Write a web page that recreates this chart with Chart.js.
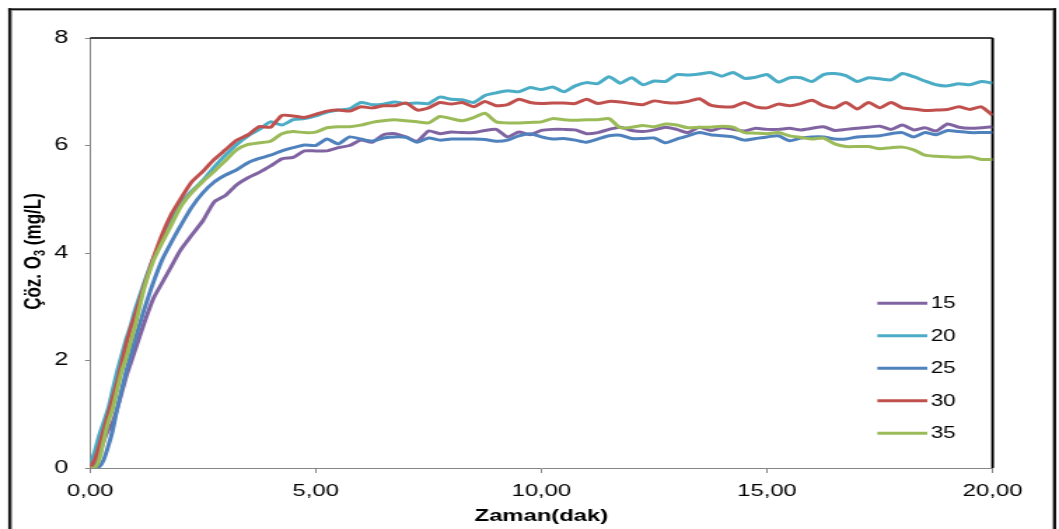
<!DOCTYPE html>
<html>
<head>
<meta charset="utf-8">
<script src="https://cdn.jsdelivr.net/npm/chart.js@4.4.1/dist/chart.umd.min.js"></script>
<style>
  html, body { margin: 0; padding: 0; background: #fff; overflow: hidden; }
  #wrap { width: 1059px; height: 529px; overflow: hidden; }
  /* the reference is stretched horizontally, so the chart is drawn narrow and scaled */
  #chart { display: block; transform: scaleX(1.40079); transform-origin: 0 0; }
</style>
</head>
<body>
<div id="wrap"><canvas id="chart" width="756" height="529"></canvas></div>
<script>
// ── Data ──────────────────────────────────────────────────────────────────────

const TIME = [
  0, 0.1, 0.2, 0.3, 0.4, 0.5, 0.6, 0.7, 0.8, 0.9, 1.0, 1.2, 1.4, 1.6, 1.8, 2.0,
  2.25, 2.5, 2.75, 3.0, 3.25, 3.5, 3.75, 4.0, 4.25, 4.5, 4.75, 5.0,
  5.25, 5.5, 5.75, 6.0, 6.25, 6.5, 6.75, 7.0, 7.25, 7.5, 7.75, 8.0,
  8.25, 8.5, 8.75, 9.0, 9.25, 9.5, 9.75, 10.0, 10.25, 10.5, 10.75, 11.0,
  11.25, 11.5, 11.75, 12.0, 12.25, 12.5, 12.75, 13.0, 13.25, 13.5, 13.75, 14.0,
  14.25, 14.5, 14.75, 15.0, 15.25, 15.5, 15.75, 16.0, 16.25, 16.5, 16.75, 17.0,
  17.25, 17.5, 17.75, 18.0, 18.25, 18.5, 18.75, 19.0, 19.25, 19.5, 19.75, 20.0,
];

const S15 = [
  0, 0.05, 0.25, 0.5, 0.7, 0.85, 1.1, 1.4, 1.7, 1.95, 2.2, 2.7, 3.15, 3.45, 3.75, 4.05,
  4.33, 4.6, 4.95, 5.07, 5.27, 5.4, 5.5, 5.62, 5.75, 5.78, 5.9, 5.9,
  5.9, 5.96, 6.0, 6.1, 6.06, 6.2, 6.22, 6.16, 6.08, 6.27, 6.22, 6.25,
  6.24, 6.24, 6.28, 6.3, 6.16, 6.25, 6.2, 6.28, 6.3, 6.3, 6.29, 6.22,
  6.24, 6.3, 6.34, 6.28, 6.26, 6.29, 6.34, 6.3, 6.24, 6.34, 6.28, 6.33,
  6.3, 6.27, 6.32, 6.3, 6.3, 6.32, 6.29, 6.32, 6.35, 6.28, 6.3, 6.32,
  6.34, 6.36, 6.3, 6.38, 6.29, 6.33, 6.27, 6.4, 6.34, 6.32, 6.33, 6.35,
];

const S20 = [
  0.05, 0.3, 0.6, 0.85, 1.1, 1.45, 1.8, 2.1, 2.4, 2.65, 2.95, 3.45, 3.9, 4.25, 4.6, 4.9,
  5.15, 5.35, 5.6, 5.82, 6.02, 6.18, 6.3, 6.44, 6.38, 6.48, 6.5, 6.55,
  6.62, 6.66, 6.68, 6.8, 6.76, 6.77, 6.81, 6.78, 6.79, 6.78, 6.9, 6.86,
  6.85, 6.8, 6.93, 6.98, 7.02, 7.0, 7.08, 7.04, 7.09, 7.0, 7.11, 7.17,
  7.15, 7.28, 7.16, 7.26, 7.13, 7.2, 7.19, 7.32, 7.31, 7.33, 7.36, 7.29,
  7.36, 7.25, 7.27, 7.32, 7.18, 7.26, 7.26, 7.19, 7.32, 7.34, 7.3, 7.19,
  7.26, 7.24, 7.22, 7.34, 7.28, 7.2, 7.13, 7.11, 7.15, 7.13, 7.19, 7.16,
];

const S25 = [
  0, 0, 0.02, 0.15, 0.4, 0.7, 1.1, 1.45, 1.8, 2.1, 2.4, 2.95, 3.45, 3.88, 4.2, 4.5,
  4.85, 5.12, 5.32, 5.45, 5.55, 5.68, 5.76, 5.82, 5.9, 5.96, 6.01, 6.0,
  6.12, 6.03, 6.16, 6.12, 6.08, 6.14, 6.16, 6.15, 6.06, 6.14, 6.1, 6.12,
  6.12, 6.12, 6.11, 6.08, 6.1, 6.18, 6.22, 6.16, 6.12, 6.13, 6.1, 6.06,
  6.12, 6.18, 6.19, 6.13, 6.13, 6.14, 6.05, 6.12, 6.18, 6.24, 6.2, 6.18,
  6.16, 6.1, 6.13, 6.16, 6.18, 6.09, 6.14, 6.16, 6.16, 6.12, 6.12, 6.16,
  6.17, 6.18, 6.22, 6.24, 6.16, 6.24, 6.2, 6.28, 6.26, 6.24, 6.24, 6.24,
];

const S30 = [
  0, 0.15, 0.4, 0.7, 1.0, 1.3, 1.6, 1.95, 2.3, 2.6, 2.85, 3.4, 3.9, 4.35, 4.72, 5.0,
  5.32, 5.52, 5.74, 5.92, 6.1, 6.2, 6.35, 6.34, 6.56, 6.55, 6.52, 6.58,
  6.64, 6.66, 6.64, 6.72, 6.7, 6.74, 6.74, 6.79, 6.66, 6.7, 6.8, 6.77,
  6.8, 6.72, 6.82, 6.74, 6.76, 6.86, 6.8, 6.78, 6.79, 6.79, 6.78, 6.86,
  6.78, 6.82, 6.81, 6.78, 6.76, 6.83, 6.8, 6.79, 6.82, 6.87, 6.75, 6.72,
  6.72, 6.8, 6.72, 6.7, 6.77, 6.74, 6.78, 6.84, 6.74, 6.7, 6.8, 6.68,
  6.8, 6.7, 6.8, 6.7, 6.68, 6.65, 6.66, 6.67, 6.72, 6.67, 6.72, 6.56,
];

const S35 = [
  0, 0, 0.15, 0.5, 0.85, 1.1, 1.45, 1.8, 2.05, 2.35, 2.65, 3.35, 3.85, 4.2, 4.52, 4.85,
  5.12, 5.33, 5.52, 5.72, 5.92, 6.02, 6.05, 6.08, 6.22, 6.26, 6.24, 6.25,
  6.33, 6.35, 6.35, 6.38, 6.43, 6.46, 6.48, 6.46, 6.44, 6.42, 6.54, 6.5,
  6.46, 6.52, 6.6, 6.44, 6.42, 6.42, 6.43, 6.44, 6.5, 6.48, 6.47, 6.48,
  6.48, 6.5, 6.33, 6.34, 6.37, 6.35, 6.4, 6.38, 6.33, 6.34, 6.34, 6.36,
  6.34, 6.24, 6.23, 6.22, 6.24, 6.18, 6.15, 6.12, 6.14, 6.03, 5.98, 5.98,
  5.98, 5.94, 5.96, 5.97, 5.92, 5.82, 5.8, 5.79, 5.78, 5.79, 5.74, 5.74,
];

const SERIES_LABELS = ["15", "20", "25", "30", "35"];
const SERIES_VALUES = [S15, S20, S25, S30, S35];
const SERIES_COLORS = ["#8064A2", "#4BACC6", "#4F81BD", "#C0504D", "#9BBB59"];

const X_TICK_LABELS = ["0,00", "5,00", "10,00", "15,00", "20,00"];
const X_TITLE = "Zaman(dak)";
const Y_TITLE_PARTS = ["Çöz. O", "3", " (mg/L)"];  // middle part is a subscript

// ── Style ─────────────────────────────────────────────────────────────────────

const FONT = '"Liberation Sans", Arial, sans-serif';
const AXIS_GRAY = "#868686";

Chart.defaults.font.family = FONT;
Chart.defaults.color = "#000";

// ── Decorations: outer frame, plot border, y title, legend ───────────────────

const decor = {
  id: "decor",
  beforeDraw(chart) {
    const { ctx, width, height } = chart;
    ctx.save();
    ctx.fillStyle = "#fff";
    ctx.fillRect(0, 0, width, height);
    // outer frame
    ctx.fillStyle = "#111";
    ctx.fillRect(5.9, 8.3, 748.1, 2);
    ctx.fillRect(5.9, 8.3, 2, height);
    ctx.fillRect(751.8, 8.3, 2.2, height);
    ctx.fillStyle = "#a0a0a0";
    ctx.fillRect(7.9, 10.3, 0.9, height);
    ctx.fillRect(751, 10.3, 0.8, height);
    ctx.fillRect(7.9, 10.3, 743, 0.7);
    ctx.restore();
  },
  beforeDatasetsDraw(chart) {
    const { ctx, chartArea: a } = chart;
    ctx.save();
    ctx.strokeStyle = "#000";
    ctx.lineWidth = 1.7;
    ctx.beginPath();
    ctx.moveTo(a.left, a.top);
    ctx.lineTo(a.right, a.top);
    ctx.stroke();
    ctx.lineWidth = 1.9;
    ctx.beginPath();
    ctx.moveTo(a.right, a.top);
    ctx.lineTo(a.right, a.bottom);
    ctx.stroke();
    ctx.restore();
  },
  afterDraw(chart) {
    const { ctx, chartArea: a } = chart;
    ctx.save();

    // y title with subscript
    ctx.translate(24.5, 251.5);
    ctx.rotate(-Math.PI / 2);
    ctx.fillStyle = "#000";
    ctx.textBaseline = "middle";
    const mainFont = "bold 17px " + FONT;
    const subFont = "bold 11px " + FONT;
    ctx.font = mainFont;
    const w0 = ctx.measureText(Y_TITLE_PARTS[0]).width;
    const w2 = ctx.measureText(Y_TITLE_PARTS[2]).width;
    ctx.font = subFont;
    const w1 = ctx.measureText(Y_TITLE_PARTS[1]).width;
    let x = -(w0 + w1 + w2) / 2;
    ctx.font = mainFont;
    ctx.fillText(Y_TITLE_PARTS[0], x, 0);
    x += w0;
    ctx.font = subFont;
    ctx.fillText(Y_TITLE_PARTS[1], x, 4);
    x += w1;
    ctx.font = mainFont;
    ctx.fillText(Y_TITLE_PARTS[2], x, 0);
    ctx.restore();

    // legend inside the plot, right side
    ctx.save();
    ctx.font = "16px " + FONT;
    ctx.textBaseline = "middle";
    ctx.fillStyle = "#000";
    chart.data.datasets.forEach((ds, i) => {
      const y = 303.3 + i * 32.5;
      ctx.strokeStyle = ds.borderColor;
      ctx.lineWidth = 3;
      ctx.beginPath();
      ctx.moveTo(a.right - 82.3, y);
      ctx.lineTo(a.right - 46.6, y);
      ctx.stroke();
      ctx.fillText(ds.label, a.right - 44.2, y + 0.5);
    });
    ctx.restore();
  },
};

// ── Chart ─────────────────────────────────────────────────────────────────────

const datasets = SERIES_LABELS.map((label, i) => ({
  label,
  data: TIME.map((t, j) => ({ x: t, y: SERIES_VALUES[i][j] })),
  borderColor: SERIES_COLORS[i],
  backgroundColor: SERIES_COLORS[i],
  borderWidth: 3,
  pointRadius: 0,
  tension: 0.2,
  fill: false,
  order: SERIES_LABELS.length - i,  // later series drawn on top
}));

new Chart(document.getElementById("chart").getContext("2d"), {
  type: "line",
  data: { datasets },
  options: {
    responsive: false,
    animation: false,
    events: [],
    layout: { padding: { left: 0, top: 38, right: 47.4, bottom: 0 } },
    plugins: { legend: { display: false }, tooltip: { enabled: false } },
    scales: {
      x: {
        type: "linear",
        min: 0,
        max: 20,
        ticks: {
          stepSize: 5,
          maxRotation: 0,
          padding: 8,
          font: { size: 17 },
          callback: v => X_TICK_LABELS[Math.round(v / 5)],
        },
        grid: { drawOnChartArea: false, tickLength: 5, color: AXIS_GRAY },
        border: { color: AXIS_GRAY, width: 1 },
        title: {
          display: true,
          text: X_TITLE,
          font: { size: 17, weight: "bold" },
          padding: { top: 0, bottom: 2 },
        },
        afterFit: s => { s.height = 61; },
      },
      y: {
        min: 0,
        max: 8,
        ticks: { stepSize: 2, padding: 12, font: { size: 18 } },
        grid: { drawOnChartArea: false, tickLength: 3.6, color: AXIS_GRAY },
        border: { color: AXIS_GRAY, width: 1 },
        afterFit: s => { s.width = 64.3; },
      },
    },
  },
  plugins: [decor],
});
</script>
</body>
</html>
